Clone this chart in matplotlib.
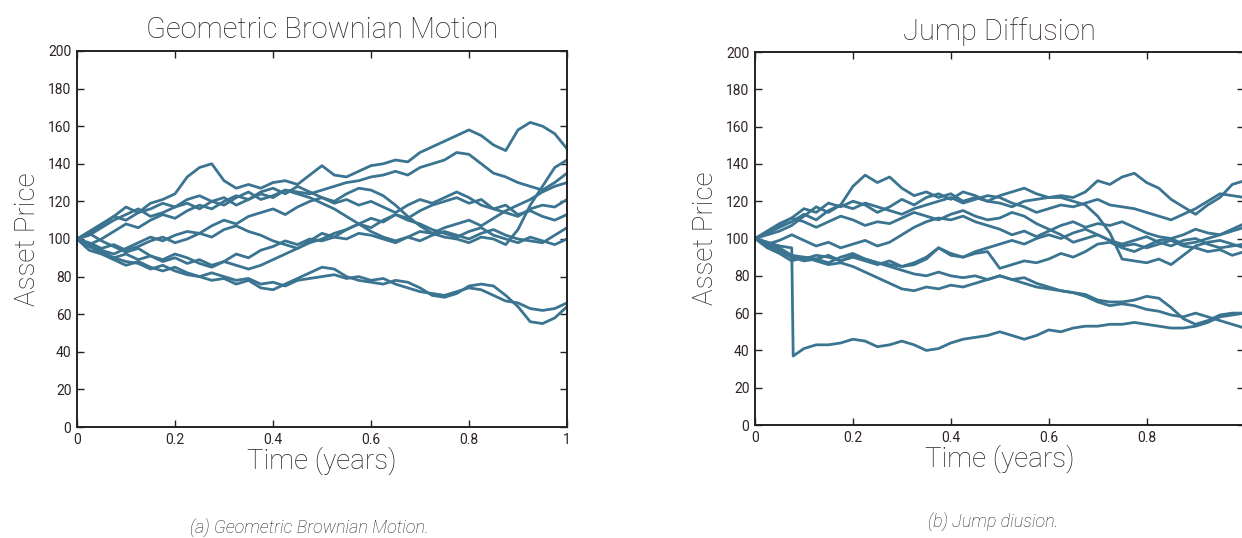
import matplotlib
matplotlib.use("Agg")
import matplotlib.pyplot as plt

#-----------------------------
line_color = '#3a7490'
text_color = '#2e2225'
line_w = 2.0
plt.rcParams['font.family'] = ['Roboto', 'Liberation Sans', 'DejaVu Sans']

# time grid shared by the paths (years)
t = [i * 0.025 for i in range(41)]

# ---- Geometric Brownian Motion paths
gbm_1 = [100, 104, 108, 112, 117, 114, 119, 121, 124, 133, 138, 140, 131, 127, 129, 127, 130, 131, 129, 134,
         139, 134, 133, 136, 139, 140, 142, 141, 146, 149, 152, 155, 158, 155, 150, 147, 158, 162, 160, 156, 148]
gbm_2 = [100, 97, 94, 92, 95, 98, 101, 99, 102, 104, 103, 107, 110, 108, 112, 114, 116, 113, 117, 120,
         122, 120, 124, 127, 126, 123, 118, 112, 107, 103, 101, 100, 98, 101, 100, 97, 105, 118, 128, 138, 142]
gbm_3 = [100, 102, 106, 110, 113, 116, 112, 114, 117, 119, 116, 120, 122, 118, 121, 124, 122, 126, 125, 124,
         126, 128, 130, 131, 133, 134, 136, 134, 138, 140, 142, 146, 145, 140, 135, 133, 130, 128, 126, 130, 135]
gbm_4 = [100, 103, 107, 112, 110, 114, 116, 119, 117, 121, 123, 120, 118, 122, 125, 121, 123, 126, 124, 122,
         119, 116, 112, 108, 104, 101, 99, 101, 104, 103, 106, 108, 110, 107, 111, 115, 118, 121, 125, 128, 130]
gbm_5 = [100, 97, 100, 104, 108, 106, 110, 113, 111, 115, 118, 116, 120, 123, 121, 125, 127, 124, 128, 125,
         122, 119, 121, 118, 120, 117, 114, 118, 121, 119, 122, 125, 122, 118, 116, 114, 112, 116, 118, 117, 121]
gbm_6 = [100, 98, 95, 97, 94, 96, 99, 101, 98, 100, 103, 101, 105, 107, 104, 102, 99, 97, 95, 99,
         103, 101, 105, 108, 106, 110, 113, 111, 115, 118, 120, 122, 119, 121, 116, 118, 113, 115, 112, 110, 113]
gbm_7 = [100, 96, 93, 90, 92, 89, 91, 88, 90, 87, 89, 86, 88, 92, 90, 94, 96, 99, 97, 100,
         99, 101, 100, 103, 102, 100, 98, 101, 99, 102, 104, 102, 100, 103, 105, 102, 100, 99, 98, 102, 106]
gbm_8 = [100, 103, 99, 96, 93, 95, 91, 89, 92, 90, 87, 85, 88, 86, 84, 86, 89, 92, 95, 98,
         100, 103, 105, 108, 111, 109, 113, 110, 108, 105, 103, 101, 104, 106, 102, 100, 98, 101, 99, 97, 100]
gbm_9 = [100, 96, 93, 90, 88, 87, 84, 86, 83, 81, 80, 82, 80, 78, 79, 76, 77, 75, 78, 79,
         80, 81, 79, 80, 78, 79, 76, 74, 72, 71, 70, 72, 74, 73, 70, 67, 66, 63, 62, 63, 66]
gbm_10 = [100, 94, 92, 89, 86, 88, 85, 83, 85, 82, 80, 78, 79, 76, 78, 74, 73, 76, 79, 82,
          85, 84, 80, 78, 77, 76, 78, 77, 74, 70, 69, 71, 75, 76, 75, 70, 64, 56, 55, 58, 64]
gbm_paths = [gbm_1, gbm_2, gbm_3, gbm_4, gbm_5, gbm_6, gbm_7, gbm_8, gbm_9, gbm_10]

# ---- Jump diffusion paths
t_jump = [0, 0.025, 0.05, 0.075, 0.078] + [i * 0.025 for i in range(4, 41)]
jd_jump = [100, 98, 96, 95, 37,
           41, 43, 43, 44, 46, 45, 42, 43, 45, 43, 40, 41, 44, 46, 47, 48, 50, 48, 46,
           48, 51, 50, 52, 53, 53, 54, 54, 55, 54, 53, 52, 52, 53, 55, 58, 59, 60]
jd_2 = [100, 103, 106, 109, 113, 110, 115, 118, 128, 134, 130, 133, 127, 123, 125, 122, 124, 120, 122, 120,
        123, 125, 127, 124, 122, 123, 122, 125, 131, 129, 133, 135, 130, 127, 121, 117, 113, 118, 122, 129, 131]
jd_3 = [100, 104, 108, 111, 116, 114, 119, 117, 120, 118, 114, 117, 121, 118, 122, 124, 121, 125, 123, 120,
        119, 117, 120, 121, 122, 122, 120, 118, 112, 103, 89, 88, 87, 89, 86, 91, 96, 98, 99, 97, 95]
jd_4 = [100, 102, 104, 107, 112, 117, 114, 118, 116, 119, 117, 115, 113, 116, 118, 120, 122, 119, 121, 123,
        122, 119, 117, 114, 116, 118, 117, 119, 121, 118, 117, 116, 114, 112, 110, 113, 116, 120, 124, 123, 122]
jd_5 = [100, 97, 99, 102, 99, 96, 98, 95, 97, 99, 96, 98, 102, 106, 109, 111, 110, 112, 109, 107,
        105, 102, 104, 101, 104, 107, 109, 106, 108, 107, 109, 106, 103, 101, 100, 102, 105, 103, 102, 105, 108]
jd_6 = [100, 103, 107, 111, 109, 106, 109, 112, 110, 107, 109, 108, 111, 114, 112, 110, 113, 115, 112, 110,
        111, 114, 112, 108, 105, 102, 98, 100, 102, 99, 97, 99, 101, 98, 96, 99, 100, 97, 95, 96, 97]
jd_7 = [100, 98, 95, 91, 90, 89, 91, 88, 90, 88, 86, 88, 85, 87, 90, 95, 92, 90, 93, 95,
        97, 99, 97, 100, 102, 100, 103, 105, 102, 99, 96, 97, 95, 97, 99, 96, 95, 93, 94, 91, 93]
jd_8 = [100, 96, 93, 90, 89, 91, 90, 88, 91, 89, 87, 85, 83, 81, 80, 82, 80, 79, 80, 78,
        80, 78, 79, 76, 74, 72, 71, 70, 67, 66, 66, 67, 69, 68, 63, 57, 54, 56, 59, 60, 60]
jd_9 = [100, 95, 92, 88, 90, 88, 86, 87, 85, 82, 79, 76, 73, 72, 74, 73, 75, 74, 76, 78,
        80, 78, 76, 74, 73, 72, 71, 69, 66, 64, 65, 64, 62, 61, 59, 58, 60, 58, 56, 54, 52]
jd_10 = [100, 97, 94, 90, 88, 89, 87, 90, 92, 89, 87, 86, 85, 86, 89, 95, 91, 90, 92, 93,
         84, 86, 88, 87, 89, 92, 90, 93, 97, 98, 95, 93, 96, 99, 100, 97, 98, 100, 102, 104, 106]
jd_paths = [jd_2, jd_3, jd_4, jd_5, jd_6, jd_7, jd_8, jd_9, jd_10]

x_ticks = [0, 0.2, 0.4, 0.6, 0.8, 1]
x_tick_labels = ['0', '0.2', '0.4', '0.6', '0.8', '1']
y_ticks = list(range(0, 201, 20))
#-----------------------------


def style_axes(ax, title):
    ax.set_xlim(0, 1)
    ax.set_ylim(0, 200)
    ax.set_xticks(x_ticks)
    ax.set_xticklabels(x_tick_labels)
    ax.set_yticks(y_ticks)
    ax.tick_params(direction='in', length=5, width=1, top=True, right=True,
                   labelsize=10, colors='#222222', labelcolor=text_color, pad=4)
    for s in ax.spines.values():
        s.set_linewidth(1.4)
        s.set_color('#222222')
    ax.set_title(title, fontsize=21, color=text_color, pad=9, fontweight='light')
    ax.set_xlabel('Time (years)', fontsize=20, color=text_color, labelpad=0, fontweight='light')
    ax.set_ylabel('Asset Price', fontsize=20, color=text_color, labelpad=5, fontweight='light')


def main():
    fig = plt.figure(figsize=(12.42, 5.38), dpi=100)
    ax1 = fig.add_axes([0.062, 0.2063, 0.3945, 0.699])
    ax2 = fig.add_axes([0.6079, 0.210, 0.3941, 0.6933])

    for p in gbm_paths:
        ax1.plot(t, p, color=line_color, linewidth=line_w)
    ax2.plot(t_jump, jd_jump, color=line_color, linewidth=line_w)
    for p in jd_paths:
        ax2.plot(t, p, color=line_color, linewidth=line_w)

    style_axes(ax1, 'Geometric Brownian Motion')
    style_axes(ax2, 'Jump Diffusion')

    fig.text(0.249, 0.020, '(a) Geometric Brownian Motion.', ha='center', va='center',
             fontsize=13, style='italic', color=text_color, fontweight='light')
    fig.text(0.800, 0.031, '(b) Jump diusion.', ha='center', va='center',
             fontsize=13, style='italic', color=text_color, fontweight='light')

    fig.savefig('out.png', dpi=100)


if __name__ == "__main__":
    main()
